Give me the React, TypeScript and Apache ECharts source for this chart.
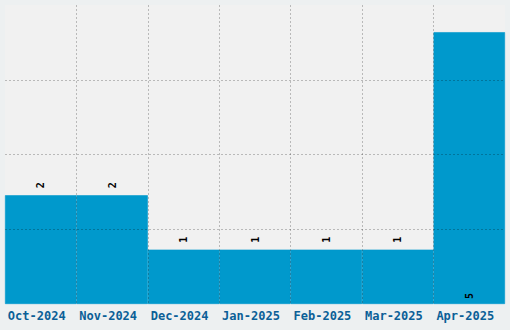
import React, { useEffect, useRef } from "react";
import * as echarts from "echarts";

const categories = ["Oct-2024", "Nov-2024", "Dec-2024", "Jan-2025", "Feb-2025", "Mar-2025", "Apr-2025"];
const counts = [2, 2, 1, 1, 1, 1, 5];
const labelPositions = ["top", "top", "top", "top", "top", "top", "insideBottom"];

export default function App() {
  const ref = useRef<HTMLDivElement>(null);
  useEffect(() => {
    if (!ref.current) return;
    const chart = echarts.init(ref.current, undefined, { renderer: "svg" });
    const mono = "'DejaVu Sans Mono', 'Liberation Mono', monospace";
    const gridLine = { color: "rgba(0,0,0,0.23)", type: [2, 2], width: 1 };
    chart.setOption({
      animation: false,
      backgroundColor: "#edf0f1",
      grid: {
        left: 5,
        right: 5,
        top: 5,
        bottom: 26,
        show: true,
        backgroundColor: "#f1f1f1",
        borderWidth: 0,
      },
      xAxis: {
        type: "category",
        data: categories,
        z: 10,
        axisLine: { show: false },
        axisTick: { show: false },
        axisLabel: {
          interval: 0,
          hideOverlap: false,
          color: "#0b5f97",
          fontFamily: mono,
          fontWeight: "bold",
          fontSize: 12,
          margin: 6,
          padding: [0, 8, 0, 0],
        },
        splitLine: {
          show: true,
          interval: 0,
          showMinLine: false,
          showMaxLine: false,
          lineStyle: gridLine,
        },
      },
      yAxis: {
        type: "value",
        min: 0,
        max: 5.5,
        interval: 1.375,
        z: 10,
        axisLine: { show: false },
        axisTick: { show: false },
        axisLabel: { show: false },
        splitLine: {
          show: true,
          showMinLine: false,
          showMaxLine: false,
          lineStyle: gridLine,
        },
      },
      series: [
        {
          type: "bar",
          barWidth: "100%",
          barCategoryGap: 0,
          itemStyle: { color: "#0099cc", borderColor: "#0099cc", borderWidth: 0.6 },
          data: counts.map((v, i) => ({
            value: v,
            label: {
              show: true,
              position: labelPositions[i],
              rotate: 90,
              align: "left",
              verticalAlign: "middle",
              distance: i === 6 ? 5 : 7,
              color: "#000",
              fontFamily: mono,
              fontWeight: "bold",
              fontSize: 10,
            },
          })),
        },
      ],
    });
    return () => chart.dispose();
  }, []);
  return <div ref={ref} style={{ width: 510, height: 330, position: "absolute", left: 0, top: 0 }} />;
}
